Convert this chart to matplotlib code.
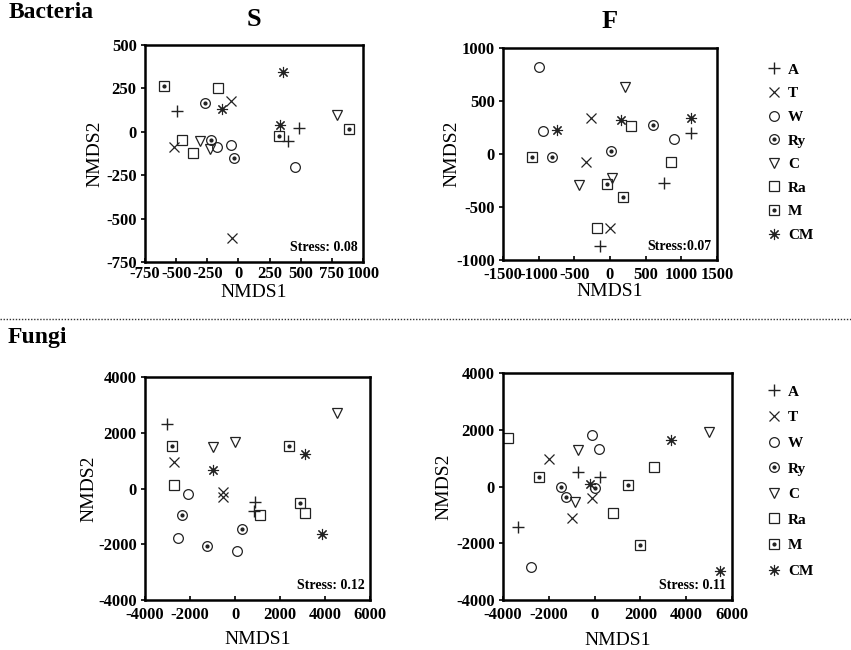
import matplotlib
matplotlib.use("Agg")
import matplotlib.pyplot as plt
from matplotlib.lines import Line2D

plt.rcParams["font.family"] = ["Liberation Serif", "DejaVu Serif"]
plt.rcParams["axes.unicode_minus"] = False

GROUPS = ["A", "T", "W", "Ry", "C", "Ra", "M", "CM"]

# ---------------- data ----------------
# Bacteria, S
bs_A  = [(-490, 120), (490, 20), (400, -55)]
bs_T  = [(-60, 180), (-520, -90), (-50, -610)]
bs_W  = [(-170, -85), (-60, -75), (455, -205)]
bs_Ry = [(-270, 165), (-220, -45), (-35, -150)]
bs_C  = [(-310, -55), (-225, -100), (795, 95)]
bs_Ra = [(-160, 255), (-455, -50), (-365, -125)]
bs_M  = [(-600, 265), (325, -25), (885, 15)]
bs_CM = [(355, 345), (-130, 130), (335, 40)]

# Bacteria, F
bf_A  = [(760, -270), (-145, -870), (1130, 195)]
bf_T  = [(-265, 335), (-340, -75), (5, -700)]
bf_W  = [(-1000, 820), (-940, 215), (895, 145)]
bf_Ry = [(-820, -25), (15, 25), (600, 270)]
bf_C  = [(215, 635), (-435, -295), (35, -225)]
bf_Ra = [(300, 260), (860, -75), (-180, -700)]
bf_M  = [(-1095, -30), (-45, -280), (185, -405)]
bf_CM = [(-740, 230), (160, 320), (1130, 335)]

# Fungi, S
fs_A  = [(-3030, 2320), (900, -475), (850, -800)]
fs_T  = [(-2730, 950), (-540, -120), (-540, -320)]
fs_W  = [(-2100, -180), (-2550, -1760), (100, -2240)]
fs_Ry = [(-2360, -940), (-1250, -2050), (330, -1440)]
fs_C  = [(-985, 1490), (0, 1665), (4540, 2710)]
fs_Ra = [(-2730, 130), (1120, -940), (3090, -880)]
fs_M  = [(-2805, 1510), (2420, 1525), (2880, -510)]
fs_CM = [(-970, 655), (3090, 1225), (3865, -1630)]

# Fungi, F
ff_A  = [(-3340, -1410), (-735, 495), (235, 330)]
ff_T  = [(-1970, 975), (-100, -390), (-970, -1115)]
ff_W  = [(-100, 1825), (175, 1315), (-2795, -2820)]
ff_Ry = [(-1455, -25), (-1235, -375), (15, -60)]
ff_C  = [(-705, 1295), (-840, -555), (4985, 1930)]
ff_Ra = [(-3765, 1705), (825, -940), (2615, 670)]
ff_M  = [(-2425, 330), (1440, 60), (1970, -2060)]
ff_CM = [(3350, 1625), (-220, 95), (5470, -2975)]

bs = [bs_A, bs_T, bs_W, bs_Ry, bs_C, bs_Ra, bs_M, bs_CM]
bf = [bf_A, bf_T, bf_W, bf_Ry, bf_C, bf_Ra, bf_M, bf_CM]
fs = [fs_A, fs_T, fs_W, fs_Ry, fs_C, fs_Ra, fs_M, fs_CM]
ff = [ff_A, ff_T, ff_W, ff_Ry, ff_C, ff_Ra, ff_M, ff_CM]

bs_ticks_x = [-750, -500, -250, 0, 250, 500, 750, 1000]
bs_ticks_y = [-750, -500, -250, 0, 250, 500]
bf_ticks_x = [-1500, -1000, -500, 0, 500, 1000, 1500]
bf_ticks_y = [-1000, -500, 0, 500, 1000]
fu_ticks_x = [-4000, -2000, 0, 2000, 4000, 6000]
fu_ticks_y = [-4000, -2000, 0, 2000, 4000]

# ---------------- styles ----------------
EC = "#222222"
STYLE = {
    "A":  dict(marker="+", ms=8, mew=1.0),
    "T":  dict(marker="x", ms=7, mew=0.9),
    "W":  dict(marker="o", ms=7, mew=0.9),
    "Ry": dict(marker="o", ms=7, mew=0.9),
    "C":  dict(marker="v", ms=7, mew=0.9),
    "Ra": dict(marker="s", ms=7, mew=0.9),
    "M":  dict(marker="s", ms=7, mew=0.9),
    "CM": dict(marker=(8, 2, 0), ms=8, mew=0.8),
}
DOTTED = {"Ry", "M", "CM"}


def handle(g):
    main = Line2D([], [], ls="none", color=EC, mfc="none", mec=EC, **STYLE[g])
    if g in DOTTED:
        dot = Line2D([], [], ls="none", marker="o", ms=2.0, color=EC, mec=EC)
        return (main, dot)
    return main


def panel(rect, data, xlim, ylim, xt, yt, stress, ylab_x, xlab_y, xpad):
    ax = fig.add_axes(rect)
    for g, pts in zip(GROUPS, data):
        xs = [p[0] for p in pts]
        ys = [p[1] for p in pts]
        ax.plot(xs, ys, ls="none", color=EC, mfc="none", mec=EC, **STYLE[g])
        if g in DOTTED:
            ax.plot(xs, ys, ls="none", marker="o", ms=2.0, color=EC, mec=EC)
    ax.set_xlim(*xlim)
    ax.set_ylim(*ylim)
    ax.set_xticks(xt)
    ax.set_yticks(yt)
    for lab in ax.get_xticklabels() + ax.get_yticklabels():
        lab.set_fontweight("bold")
        lab.set_fontsize(12)
    ax.tick_params(axis="x", direction="in", length=3, width=1.2, pad=xpad)
    ax.tick_params(axis="y", direction="out", length=3, width=1.2, pad=3)
    for s in ax.spines.values():
        s.set_linewidth(1.8)
    ax.set_xlabel("NMDS1", fontsize=14)
    ax.set_ylabel("NMDS2", fontsize=14)
    ax.xaxis.set_label_coords(0.5, xlab_y)
    ax.yaxis.set_label_coords(ylab_x, 0.5)
    ax.text(0.975, 0.035, stress, transform=ax.transAxes, ha="right", va="bottom",
            fontsize=10, fontweight="bold")
    return ax


W, H = 851, 650
fig = plt.figure(figsize=(W / 100, H / 100), dpi=100)


def rect(x0, y0, x1, y1):
    return [x0 / W, 1 - y1 / H, (x1 - x0) / W, (y1 - y0) / H]


panel(rect(145, 45, 363, 262), bs, (-750, 1000), (-750, 500), bs_ticks_x, bs_ticks_y,
      "Stress: 0.08", -0.19, -0.102, 3)
panel(rect(503, 48, 717, 260), bf, (-1500, 1500), (-1000, 1000), bf_ticks_x, bf_ticks_y,
      "Stress:0.07", -0.20, -0.11, 5)
panel(rect(145, 377, 370, 600), fs, (-4000, 6000), (-4000, 4000), fu_ticks_x, fu_ticks_y,
      "Stress: 0.12", -0.21, -0.14, 5)
panel(rect(503, 373, 732, 600), ff, (-4000, 6000), (-4000, 4000), fu_ticks_x, fu_ticks_y,
      "Stress: 0.11", -0.22, -0.14, 5)

# headings
fig.text(9 / W, 1 - 13 / H, "Bacteria", fontsize=17, fontweight="bold", va="center", ha="left")
fig.text(8 / W, 1 - 338 / H, "Fungi", fontsize=17, fontweight="bold", va="center", ha="left")
fig.text(254 / W, 1 - 19 / H, "S", fontsize=19, fontweight="bold", va="center", ha="center")
fig.text(610 / W, 1 - 22 / H, "F", fontsize=19, fontweight="bold", va="center", ha="center")

# dotted separator
fig.add_artist(Line2D([0, 1], [1 - 319 / H, 1 - 319 / H], transform=fig.transFigure,
                      color="#333333", lw=1.0, ls=(0, (1, 1.2))))

# legends
handles = [handle(g) for g in GROUPS]
for ytop, spacing in [(63, 0.65), (385, 0.78)]:
    fig.legend(handles, GROUPS, loc="upper left", bbox_to_anchor=(768 / W, 1 - ytop / H),
               frameon=False, handlelength=0.8, handletextpad=0.5, labelspacing=spacing,
               borderpad=0, borderaxespad=0,
               prop=dict(family="Liberation Serif", weight="bold", size=11))

fig.savefig("out.png", dpi=100)
